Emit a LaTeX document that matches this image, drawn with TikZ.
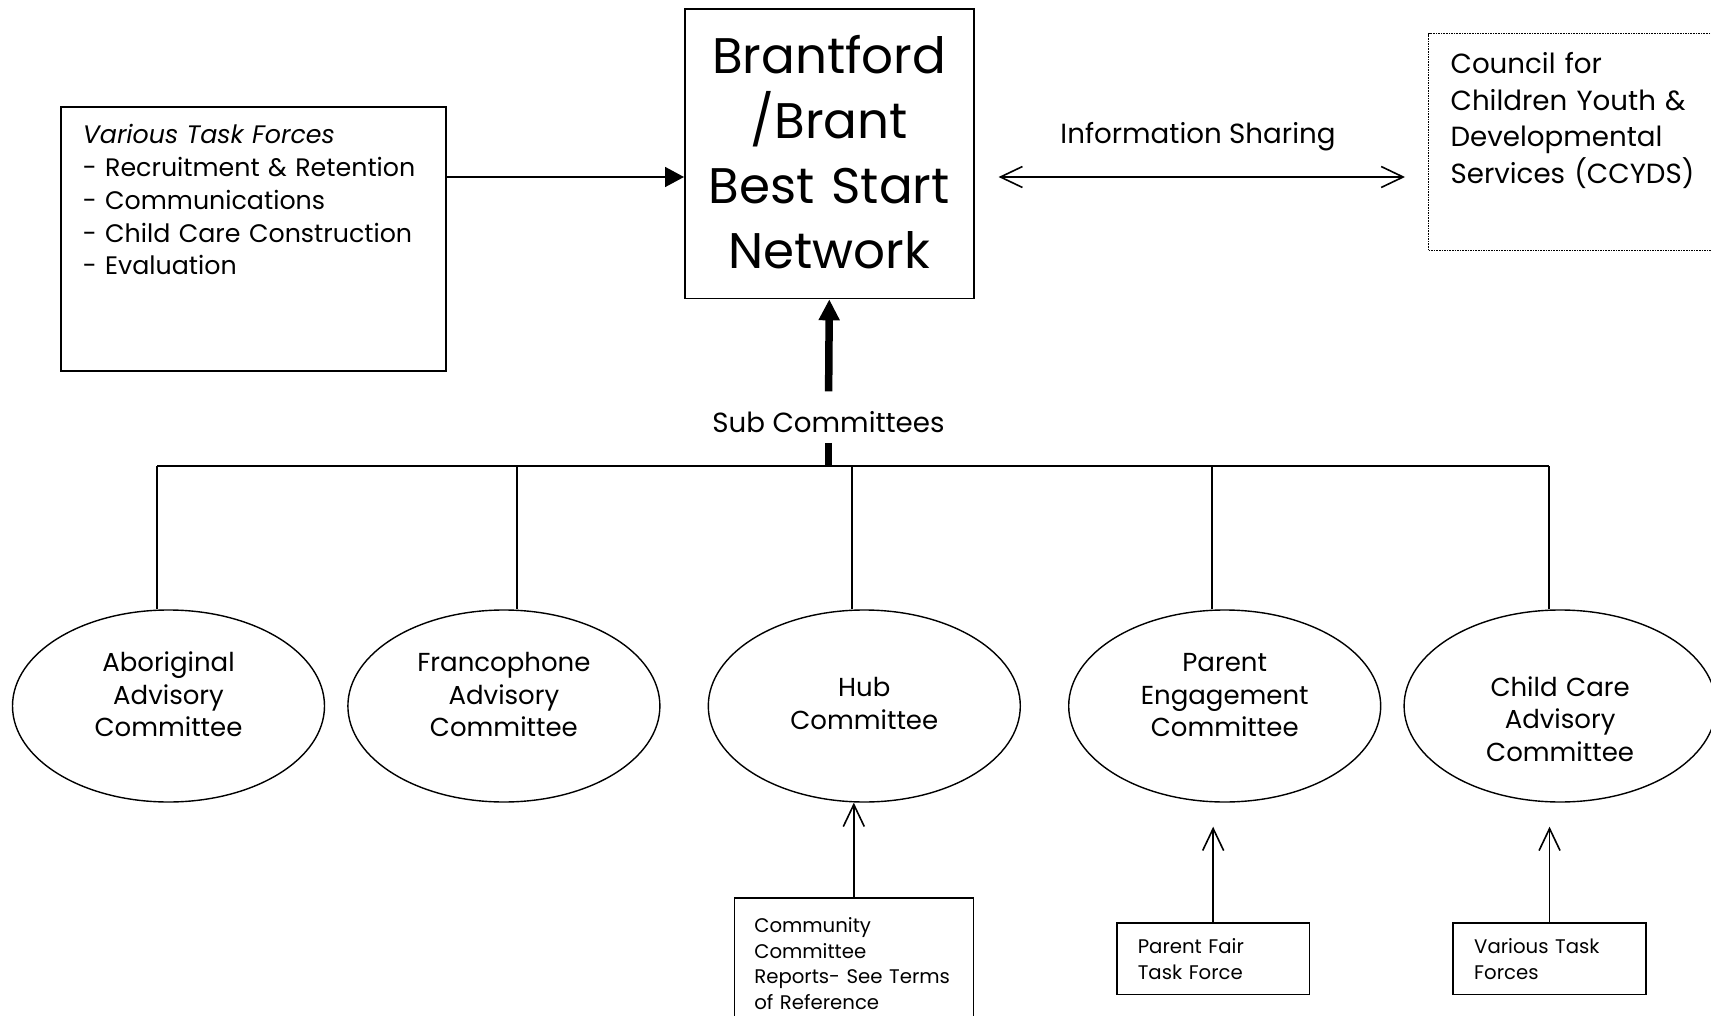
\documentclass[tikz,border=0pt]{standalone}
\usepackage{fontspec}
\setmainfont{Poppins}
\usetikzlibrary{positioning, shapes, arrows.meta}

\begin{document}
\begin{tikzpicture}[
x=1pt, y=-1pt,
mybox/.style={rectangle,
  draw=black,
  line width=1.6pt,
  inner ysep=0pt,
  align=left,
},
mycommittee/.style={ellipse,
  draw=black,
  line width=1.4pt,
  minimum width=312pt,
  minimum height=192pt,
  text width=200pt,
  text height=20pt,
  text depth=88.6pt,
  align=center,
  font=\fontsize{26}{32.5}\selectfont,
},
mysmall/.style={mybox,
  inner xsep=21pt,
  text width=150.7pt,
  text height=31pt,
  text depth=40.6pt,
  font=\fontsize{19.7}{25.5}\selectfont,
},
mylabel/.style={font=\fontsize{27.7}{32}\selectfont,
  anchor=base,
},
>={Straight Barb[length=22pt,width=21pt]}
]
\useasboundingbox (0,0) rectangle (1711,1016);

\node[mybox, anchor=north west, align=center, inner xsep=0pt,
  text width=289pt, text height=64.4pt, text depth=225pt,
  font=\fontsize{50}{65}\selectfont] (network) at (684,8.3)
    {Brantford\\/Brant\\Best Start\\Network};
\node[mybox, anchor=north west, inner xsep=22pt,
  text width=341pt, text height=37pt, text depth=227pt,
  font=\fontsize{25.3}{32.8}\selectfont] (task) at (60,106)
    {\textit{Various Task Forces}\\- Recruitment \& Retention\\- Communications\\- Child Care Construction\\- Evaluation};
\node[mybox, anchor=north west, densely dotted, line width=1.2pt, inner xsep=22pt,
  text width=260pt, text height=40pt, text depth=177pt,
  font=\fontsize{27.7}{36.7}\selectfont] (ccyds) at (1428,33)
    {Council for\\Children Youth \&\\Developmental\\Services (CCYDS)};

\coordinate (arrowrow) at (0,177);
\node[mylabel] (info) at (1198,144)
    {Information Sharing};
\node[mylabel] (subcom) at (828.5,432)
    {Sub Committees};

\node[mycommittee] (abor) at (168.5,706)
    {Aboriginal\\Advisory\\Committee};
\node[mycommittee, right=22pt of abor] (franc)
    {Francophone\\Advisory\\Committee};
\node[mycommittee, right=47pt of franc, text depth=38.6pt] (hub)
    {Hub\\Committee};
\node[mycommittee, right=47pt of hub] (parent)
    {Parent\\Engagement\\Committee};
\node[mycommittee, right=22pt of parent, text depth=40pt] (childcare)
    {Child Care\\Advisory\\Committee};

\node[mybox, anchor=north west, inner xsep=20pt,
  text width=199pt, text height=34.7pt, text depth=100pt,
  font=\fontsize{19.7}{25.5}\selectfont] (reports) at (733.5,897)
    {Community\\Committee\\Reports- See Terms\\of Reference};
\node[mysmall, anchor=north west] (fair) at (1116,922)
    {Parent Fair\\Task Force};
\node[mysmall, anchor=north west] (various) at (1452.4,922)
    {Various Task\\Forces};

\coordinate (bar1) at (157,466);
\coordinate (bar2) at (517,466);
\coordinate (bar3) at (852,466);
\coordinate (bar4) at (1212,466);
\coordinate (bar5) at (1549,466);

\draw[-{Triangle[length=19pt,width=20pt]}, line width=1.6pt] (task.east |- arrowrow) -- (network.west |- arrowrow);
\draw[<->, line width=1.6pt, shorten <=24pt, shorten >=23pt] (network.east |- arrowrow) -- (ccyds.west |- arrowrow);
\draw[-{Triangle[length=21pt,width=20pt]}, line width=7.5pt, shorten <=16pt] (subcom.north) -- (network.south);
\draw[line width=7.5pt, shorten <=7pt] (subcom.south) -- (subcom.south |- bar1);

\draw[line width=1.6pt] (bar1) -- (bar5);
\draw[line width=1.6pt] (bar1) -- (bar1 |- abor.north);
\draw[line width=1.6pt] (bar2) -- (bar2 |- franc.north);
\draw[line width=1.6pt] (bar3) -- (bar3 |- hub.north);
\draw[line width=1.6pt] (bar4) -- (bar4 |- parent.north);
\draw[line width=1.6pt] (bar5) -- (bar5 |- childcare.north);

\draw[->, line width=1.6pt] (reports.north) -- (reports.north |- hub.south);
\draw[->, line width=1.6pt, shorten >=24pt] (fair.north) -- (fair.north |- parent.south);
\draw[->, line width=1.6pt, shorten >=24pt] (various.north) -- (various.north |- childcare.south);
\end{tikzpicture}
\end{document}
